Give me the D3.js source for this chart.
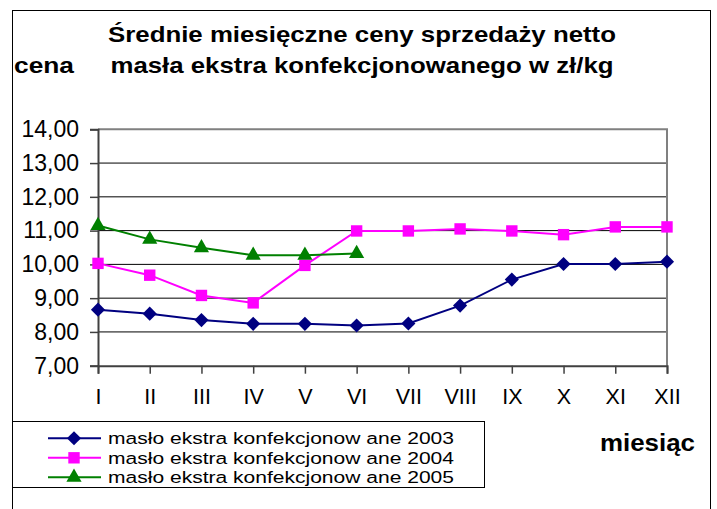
<!DOCTYPE html>
<html>
<head>
<meta charset="utf-8">
<script src="https://cdn.jsdelivr.net/npm/d3@7"></script>
<style>
  html, body { margin: 0; padding: 0; background: #fff; }
  svg { display: block; }
  text { font-family: "Liberation Sans", Arial, sans-serif; fill: #000; }
</style>
</head>
<body>
<svg id="chart" width="717" height="509"></svg>
<script>
const months = ["I","II","III","IV","V","VI","VII","VIII","IX","X","XI","XII"];
const yTicks = [7, 8, 9, 10, 11, 12, 13, 14];
const values2003 = [8.66, 8.54, 8.35, 8.24, 8.24, 8.19, 8.25, 8.78, 9.55, 10.01, 10.01, 10.08];
const values2004 = [10.03, 9.68, 9.08, 8.86, 9.97, 10.99, 10.99, 11.05, 10.99, 10.88, 11.11, 11.11];
const values2005 = [11.15, 10.74, 10.49, 10.27, 10.27, 10.32];
const seriesNames = [
  "masło ekstra konfekcjonow ane 2003",
  "masło ekstra konfekcjonow ane 2004",
  "masło ekstra konfekcjonow ane 2005"
];
const titleLines = ["Średnie miesięczne ceny sprzedaży netto", "masła ekstra konfekcjonowanego w zł/kg"];
const yLabel = "cena";
const xLabel = "miesiąc";

const series = [
  { name: seriesNames[0], values: values2003, color: "#000080", symbol: d3.symbolSquare, size: 100, rotate: 45 },
  { name: seriesNames[1], values: values2004, color: "#FF00FF", symbol: d3.symbolSquare, size: 130, rotate: 0 },
  { name: seriesNames[2], values: values2005, color: "#008000", symbol: d3.symbolTriangle, size: 100, rotate: 0 }
];

const svg = d3.select("#chart");

// outer frame
svg.append("rect").attr("x", 12.5).attr("y", 10.5).attr("width", 698).attr("height", 520)
  .attr("fill", "none").attr("stroke", "#000").attr("stroke-width", 1);

const x = d3.scalePoint().domain(months).range([98, 667]).padding(0);
const y = d3.scaleLinear().domain([7, 14]).range([365.7, 129.3]);

const fmt = v => d3.format(".2f")(v).replace(".", ",");

// gridlines
svg.append("g").selectAll("line").data(yTicks.filter(t => t > 7 && t < 14)).join("line")
  .attr("x1", x("I")).attr("x2", x("XII"))
  .attr("y1", d => y(d)).attr("y2", d => y(d))
  .attr("stroke", "#000").attr("stroke-width", 1);

// plot border top & right (gray)
svg.append("path")
  .attr("d", `M${x("I")},${y(14)}H${x("XII")}V${y(7)}`)
  .attr("fill", "none").attr("stroke", "#808080").attr("stroke-width", 2);

// y axis
const yAxis = d3.axisLeft(y).tickValues(yTicks).tickSize(8).tickPadding(11).tickFormat(fmt);
const gy = svg.append("g").attr("transform", `translate(${x("I")},0)`).call(yAxis);
gy.select(".domain").attr("stroke", "#404040").attr("stroke-width", 2);
gy.selectAll(".tick line").attr("stroke", "#404040").attr("stroke-width", 1.5);
gy.selectAll(".tick text").attr("font-size", 23).attr("font-family", "Liberation Sans, Arial, sans-serif").attr("fill", "#000");

// x axis
const xAxis = d3.axisBottom(x).tickSize(8).tickPadding(15);
const gx = svg.append("g").attr("transform", `translate(0,${y(7)})`).call(xAxis);
gx.select(".domain").attr("stroke", "#404040").attr("stroke-width", 2);
gx.selectAll(".tick line").attr("stroke", "#404040").attr("stroke-width", 1.5);
gx.selectAll(".tick text").attr("font-size", 21.5).attr("font-family", "Liberation Sans, Arial, sans-serif").attr("fill", "#000");

// lines and markers
const line = d3.line().x((d, i) => x(months[i])).y(d => y(d));
series.forEach(s => {
  svg.append("path").datum(s.values).attr("d", line)
    .attr("fill", "none").attr("stroke", s.color).attr("stroke-width", 2);
  svg.append("g").selectAll("path").data(s.values).join("path")
    .attr("transform", (d, i) => `translate(${x(months[i])},${y(d)}) rotate(${s.rotate})`)
    .attr("d", d3.symbol().type(s.symbol).size(s.size))
    .attr("fill", s.color);
});

// title
svg.append("text").attr("x", 362).attr("y", 41.5).attr("text-anchor", "middle")
  .attr("font-weight", "bold").attr("font-size", 22)
  .attr("textLength", 508).attr("lengthAdjust", "spacingAndGlyphs").text(titleLines[0]);
svg.append("text").attr("x", 362).attr("y", 73).attr("text-anchor", "middle")
  .attr("font-weight", "bold").attr("font-size", 22)
  .attr("textLength", 503).attr("lengthAdjust", "spacingAndGlyphs").text(titleLines[1]);

// axis titles
svg.append("text").attr("x", 14).attr("y", 73).attr("font-weight", "bold").attr("font-size", 22)
  .attr("textLength", 60).attr("lengthAdjust", "spacingAndGlyphs").text(yLabel);
svg.append("text").attr("x", 600).attr("y", 451).attr("font-weight", "bold").attr("font-size", 23)
  .attr("textLength", 95).attr("lengthAdjust", "spacingAndGlyphs").text(xLabel);

// legend
const lg = svg.append("g");
lg.append("rect").attr("x", 12.5).attr("y", 421.5).attr("width", 472).attr("height", 66)
  .attr("fill", "#fff").attr("stroke", "#000").attr("stroke-width", 1);
series.forEach((s, i) => {
  const cy = 438.3 + i * 19.5;
  lg.append("line").attr("x1", 48).attr("x2", 101).attr("y1", cy).attr("y2", cy)
    .attr("stroke", s.color).attr("stroke-width", 2);
  lg.append("path").attr("transform", `translate(74,${cy}) rotate(${s.rotate})`)
    .attr("d", d3.symbol().type(s.symbol).size(s.size)).attr("fill", s.color);
  lg.append("text").attr("x", 108).attr("y", cy + 6).attr("font-size", 16.8)
    .attr("textLength", 346).attr("lengthAdjust", "spacingAndGlyphs").text(s.name);
});
</script>
</body>
</html>
